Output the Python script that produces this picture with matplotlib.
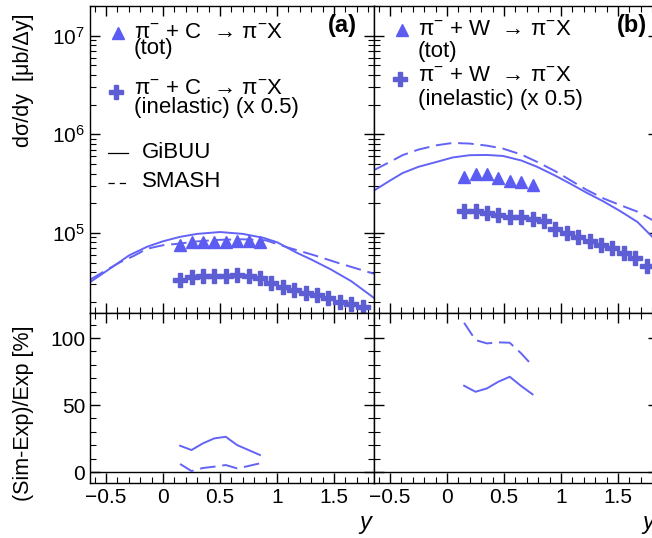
import numpy as np
import matplotlib
matplotlib.use("Agg")
from matplotlib import pyplot as plt
from matplotlib.ticker import MultipleLocator, LogLocator, NullFormatter

# ---- data ----
# panel (a): pi- + C
a_x_tot = [0.15, 0.25, 0.35, 0.45, 0.55, 0.65, 0.75, 0.85]
a_tot = [7.6e4, 8.1e4, 8.05e4, 8.1e4, 8.1e4, 8.3e4, 8.2e4, 8.0e4]
a_x_inel = [0.15, 0.25, 0.35, 0.45, 0.55, 0.65, 0.75, 0.85, 0.95,
            1.05, 1.15, 1.25, 1.35, 1.45, 1.55, 1.65, 1.75]
a_inel = [3.35e4, 3.6e4, 3.68e4, 3.68e4, 3.68e4, 3.77e4, 3.68e4, 3.51e4, 3.13e4,
          2.85e4, 2.66e4, 2.48e4, 2.36e4, 2.2e4, 2.01e4, 1.92e4, 1.79e4]
a_x_gibuu = [-0.64, -0.44, -0.3, -0.14, 0.0, 0.15, 0.3, 0.5, 0.7, 0.88,
             1.0, 1.17, 1.3, 1.47, 1.65, 1.85]
a_gibuu = [3.16e4, 4.54e4, 5.89e4, 7.23e4, 8.22e4, 9.12e4, 9.77e4, 1.02e5, 9.77e4,
           8.91e4, 8.04e4, 6.31e4, 5.37e4, 4.27e4, 3.24e4, 2.19e4]
a_x_smash = [-0.64, -0.5, -0.38, -0.25, -0.14, 0.0, 0.15, 0.3, 0.5, 0.7,
             0.9, 1.1, 1.32, 1.55, 1.85]
a_smash = [3.35e4, 4.17e4, 5.01e4, 5.89e4, 6.9e4, 7.5e4, 7.8e4, 8.2e4, 8.51e4,
           8.61e4, 8.41e4, 7.08e4, 5.96e4, 4.90e4, 3.85e4]
a_ratio_gibuu = [19.6, 16.4, 21.4, 25.1, 26.3, 20.1, 16.4, 12.7]
a_ratio_smash = [6.0, 0.7, 3.0, 4.0, 5.2, 2.7, 4.5, 6.5]

# panel (b): pi- + W
b_x_tot = [0.15, 0.25, 0.35, 0.45, 0.55, 0.65, 0.75]
b_tot = [3.7e5, 3.95e5, 3.92e5, 3.57e5, 3.37e5, 3.25e5, 3.05e5]
b_x_inel = a_x_inel
b_inel = [1.67e5, 1.67e5, 1.58e5, 1.52e5, 1.44e5, 1.44e5, 1.38e5, 1.33e5, 1.10e5,
          9.9e4, 9.06e4, 8.2e4, 7.57e4, 7.0e4, 6.3e4, 5.5e4, 4.6e4]
b_x_model = [-0.64, -0.5, -0.39, -0.25, -0.09, 0.05, 0.2, 0.35, 0.49, 0.65,
             0.79, 0.95, 1.08, 1.22, 1.37, 1.52, 1.67, 1.8, 1.85]
b_gibuu = [2.69e5, 3.39e5, 4.04e5, 4.68e5, 5.25e5, 5.82e5, 6.14e5, 6.17e5, 6.03e5,
           5.43e5, 4.68e5, 3.80e5, 3.16e5, 2.57e5, 2.09e5, 1.66e5, 1.29e5, 9.12e4, 7.94e4]
b_smash = [4.33e5, 5.25e5, 6.14e5, 7.0e5, 7.74e5, 8.17e5, 8.05e5, 7.67e5, 7.16e5,
           6.24e5, 5.25e5, 4.22e5, 3.43e5, 2.75e5, 2.24e5, 1.91e5, 1.64e5, 1.35e5, 1.26e5]
b_ratio_gibuu = [64.4, 59.9, 62.4, 67.4, 71.1, 64.2, 58.0]
b_ratio_smash = [111.4, 98.5, 96.0, 96.8, 96.5, 88.6, 79.3]

x_ticks = [-0.5, 0, 0.5, 1, 1.5]
x_tick_labels = ['\u22120.5', '0', '0.5', '1', '1.5']

c_tri = '#5c5cf2'
c_cross = '#5d5dd4'
c_line = '#6363f6'
dash = (0, (8, 3.5))

plt.rcParams['font.family'] = ['Liberation Sans', 'DejaVu Sans']
plt.rcParams['mathtext.fontset'] = 'custom'
plt.rcParams['mathtext.rm'] = 'Liberation Sans'
plt.rcParams['mathtext.it'] = 'Liberation Sans:italic'
plt.rcParams['mathtext.bf'] = 'Liberation Sans:bold'

W, H = 652, 538
fig = plt.figure(figsize=(W / 100, H / 100), dpi=100)

def box(x0, y0, x1, y1):
    return [x0 / W, 1 - y1 / H, (x1 - x0) / W, (y1 - y0) / H]

ax_a = fig.add_axes(box(90, 6, 374, 313))
ax_b = fig.add_axes(box(374, 6, 658, 313))
ax_ar = fig.add_axes(box(90, 313, 374, 483))
ax_br = fig.add_axes(box(374, 313, 658, 483))

def style(ax, log):
    ax.set_xlim(-0.64, 1.85)
    ax.xaxis.set_major_locator(MultipleLocator(0.5))
    ax.xaxis.set_minor_locator(MultipleLocator(0.1))
    if log:
        ax.set_yscale('log')
        ax.set_ylim(1.54e4, 2.0e7)
        ax.yaxis.set_major_locator(LogLocator(base=10, numticks=10))
        ax.yaxis.set_minor_locator(LogLocator(base=10, subs=np.arange(2, 10), numticks=10))
        ax.yaxis.set_minor_formatter(NullFormatter())
    else:
        ax.set_ylim(-8.2, 118.7)
        ax.yaxis.set_major_locator(MultipleLocator(50))
        ax.yaxis.set_minor_locator(MultipleLocator(10))
    ax.tick_params(which='both', direction='in', top=True, right=True, labelsize=15)
    ax.tick_params(which='major', length=7, width=1)
    ax.tick_params(which='minor', length=4, width=0.8)
    for s in ax.spines.values():
        s.set_linewidth(1.0)

for ax in (ax_a, ax_b):
    style(ax, True)
    ax.tick_params(labelbottom=False)
for ax in (ax_ar, ax_br):
    style(ax, False)
    ax.set_xticks(x_ticks)
    ax.set_xticklabels(x_tick_labels)
    ax.axhline(0, color='black', lw=1)
ax_b.tick_params(labelleft=False)
ax_br.tick_params(labelleft=False)

# top panels
ax_a.plot(a_x_gibuu, a_gibuu, color=c_line, lw=1.4)
ax_a.plot(a_x_smash, a_smash, color=c_line, lw=1.4, linestyle=dash)
ax_a.plot(a_x_tot, a_tot, '^', color=c_tri, ms=9, mec=c_tri)
ax_a.plot(a_x_inel, a_inel, 'P', color=c_cross, ms=10, mec=c_cross)

ax_b.plot(b_x_model, b_gibuu, color=c_line, lw=1.4)
ax_b.plot(b_x_model, b_smash, color=c_line, lw=1.4, linestyle=dash)
ax_b.plot(b_x_tot, b_tot, '^', color=c_tri, ms=9, mec=c_tri)
ax_b.plot(b_x_inel, b_inel, 'P', color=c_cross, ms=10, mec=c_cross)

# ratio panels
ax_ar.plot(a_x_tot, a_ratio_gibuu, color=c_line, lw=1.4)
ax_ar.plot(a_x_tot, a_ratio_smash, color=c_line, lw=1.4, linestyle=dash)
ax_br.plot(b_x_tot, b_ratio_gibuu, color=c_line, lw=1.4)
ax_br.plot(b_x_tot, b_ratio_smash, color=c_line, lw=1.4, linestyle=dash)

# legends
fs = 16

def legend(ax, target, ty):
    t = ax.transAxes
    reaction = 'π$^{-}$ + ' + target + '  \u2192 π$^{-}$X'
    ax.plot([0.097], [ty[0]], '^', color=c_tri, ms=9, transform=t, clip_on=False)
    ax.text(0.155, ty[0] + 0.003, reaction, transform=t, fontsize=fs, va='center')
    ax.text(0.155, ty[1], '(tot)', transform=t, fontsize=fs, va='center')
    ax.plot([0.093], [ty[2]], 'P', color=c_cross, ms=10, transform=t, clip_on=False)
    ax.text(0.155, ty[2] + 0.012, reaction, transform=t, fontsize=fs, va='center')
    ax.text(0.155, ty[3], '(inelastic) (x 0.5)', transform=t, fontsize=fs, va='center')

legend(ax_a, 'C', [0.912, 0.862, 0.72, 0.671])
legend(ax_b, 'W', [0.922, 0.852, 0.762, 0.694])

ta = ax_a.transAxes
ax_a.plot([0.063, 0.134], [0.521, 0.521], color='black', lw=0.9, transform=ta)
ax_a.text(0.183, 0.524, 'GiBUU', transform=ta, fontsize=fs, va='center')
ax_a.plot([0.063, 0.134], [0.423, 0.423], color='black', lw=0.9, linestyle=(0, (5, 4)),
          transform=ta)
ax_a.text(0.183, 0.427, 'SMASH', transform=ta, fontsize=fs, va='center')

ax_a.text(0.94, 0.938, '(a)', transform=ta, fontsize=17, fontweight='bold',
          ha='right', va='center')
ax_b.text(0.961, 0.938, '(b)', transform=ax_b.transAxes, fontsize=17, fontweight='bold',
          ha='right', va='center')

fig.text(24 / W, 1 - 80 / H, 'dσ/dy  [μb/Δy]', rotation=90,
         fontsize=15.5, ha='center', va='center')
fig.text(24 / W, 1 - 413 / H, '(Sim-Exp)/Exp [%]', rotation=90,
         fontsize=15.5, ha='center', va='center')
fig.text(365 / W, 1 - 522 / H, 'y', fontsize=17, style='italic', ha='center', va='center')
fig.text(648 / W, 1 - 522 / H, 'y', fontsize=17, style='italic', ha='center', va='center')

fig.savefig('out.png', dpi=100)
